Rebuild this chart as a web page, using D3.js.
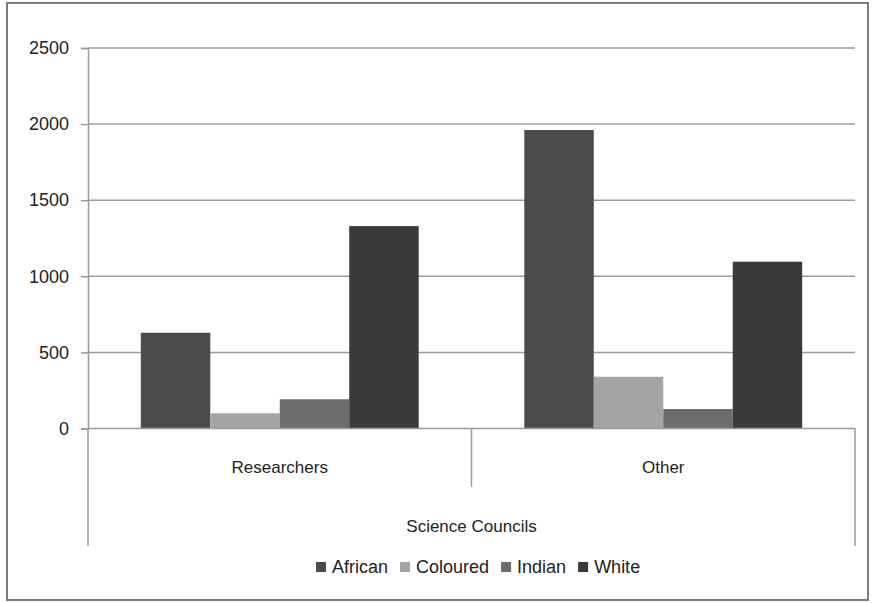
<!DOCTYPE html>
<html>
<head>
<meta charset="utf-8">
<script src="https://cdn.jsdelivr.net/npm/d3@7"></script>
<style>
  html, body { margin: 0; padding: 0; background: #fff; }
  svg { display: block; }
  text { font-family: "Liberation Sans", Arial, sans-serif; fill: #222; }
</style>
</head>
<body>
<svg id="chart" width="872" height="603"></svg>
<script>
// Staff counts by race, science councils
const categories = ["Researchers", "Other"];
const groupLabel = "Science Councils";
const seriesNames = ["African", "Coloured", "Indian", "White"];
const african  = [629, 1961];
const coloured = [100, 340];
const indian   = [192, 128];
const white    = [1330, 1096];
const yTicks = [0, 500, 1000, 1500, 2000, 2500];
const colors = ["#4b4b4b", "#a4a4a4", "#6c6c6c", "#3a3a3a"];

const seriesValues = [african, coloured, indian, white];

const svg = d3.select("#chart");

// Outer frame
svg.append("rect")
  .attr("x", 7).attr("y", 3).attr("width", 861).attr("height", 597)
  .attr("fill", "#fff").attr("stroke", "#7a7a7a").attr("stroke-width", 2);

const plot = { left: 88, right: 855, top: 48, bottom: 428.5 };

const y = d3.scaleLinear().domain([0, 2500]).range([plot.bottom, plot.top]);
const x0 = d3.scaleBand().domain(categories).range([plot.left, plot.right]).paddingInner(0).paddingOuter(0);
const x1 = d3.scaleBand().domain(seriesNames).range([0, x0.bandwidth()]).paddingOuter(0.76).paddingInner(0);

// Horizontal gridlines
svg.append("g")
  .selectAll("line").data(yTicks.filter(d => d > 0)).join("line")
  .attr("x1", plot.left).attr("x2", plot.right)
  .attr("y1", d => y(d)).attr("y2", d => y(d))
  .attr("stroke", "#9a9a9a").attr("stroke-width", 1.5);

// Y axis
const yAxis = svg.append("g")
  .attr("transform", `translate(${plot.left},0)`)
  .call(d3.axisLeft(y).tickValues(yTicks).tickFormat(d3.format("d")).tickSize(7).tickPadding(12));
yAxis.select(".domain").attr("stroke", "#9a9a9a").attr("stroke-width", 1.5);
yAxis.selectAll(".tick line").attr("stroke", "#9a9a9a").attr("stroke-width", 1.5);
yAxis.selectAll(".tick text").style("font-size", "18px").attr("fill", "#222")
  .style("font-family", "'Liberation Sans', Arial, sans-serif");

// Bars
const groups = svg.append("g").selectAll("g").data(categories).join("g")
  .attr("transform", c => `translate(${x0(c)},0)`);
groups.selectAll("rect")
  .data((c, ci) => seriesNames.map((s, si) => ({ s, si, v: seriesValues[si][ci] })))
  .join("rect")
  .attr("x", d => x1(d.s))
  .attr("width", x1.bandwidth())
  .attr("y", d => y(d.v))
  .attr("height", d => y(0) - y(d.v))
  .attr("fill", d => colors[d.si]);

// Category axis baseline
svg.append("line")
  .attr("x1", plot.left).attr("x2", plot.right)
  .attr("y1", y(0)).attr("y2", y(0))
  .attr("stroke", "#9a9a9a").attr("stroke-width", 1.5);

// Hierarchical category dividers
const edges = [x0.range()[0], x0(categories[1]), x0.range()[1]];
svg.append("g").selectAll("line").data(edges).join("line")
  .attr("x1", d => d).attr("x2", d => d)
  .attr("y1", y(0))
  .attr("y2", (d, i) => i === 1 ? 487 : 546)
  .attr("stroke", "#9a9a9a").attr("stroke-width", 1.5);

// Category labels
svg.append("g").selectAll("text").data(categories).join("text")
  .attr("x", c => x0(c) + x0.bandwidth() / 2)
  .attr("y", 473)
  .attr("text-anchor", "middle")
  .style("font-size", "17px")
  .text(c => c);

svg.append("text")
  .attr("x", (plot.left + plot.right) / 2)
  .attr("y", 532)
  .attr("text-anchor", "middle")
  .style("font-size", "17px")
  .text(groupLabel);

// Legend
const legend = svg.append("g").attr("transform", "translate(316,567)");
let lx = 0;
seriesNames.forEach((name, i) => {
  const g = legend.append("g").attr("transform", `translate(${lx},0)`);
  g.append("rect").attr("x", 0).attr("y", -5).attr("width", 10).attr("height", 10).attr("fill", colors[i]);
  const t = g.append("text").attr("x", 16).attr("y", 6).style("font-size", "18px").text(name);
  lx += 16 + t.node().getComputedTextLength() + 12;
});
</script>
</body>
</html>
